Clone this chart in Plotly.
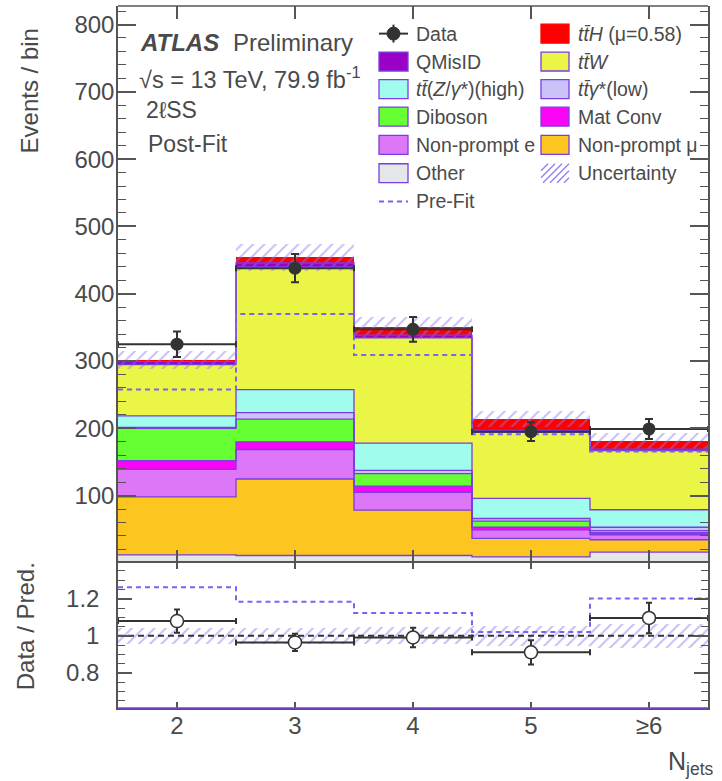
import numpy as np
import plotly.graph_objects as go

# ---------------- data ----------------
bin_labels = ["2", "3", "4", "5", "≥6"]
bin_centers = [2, 3, 4, 5, 6]
bin_edges = [1.5, 2.5, 3.5, 4.5, 5.5, 6.5]

# post-fit background/signal yields per N_jets bin (stacked bottom -> top)
other = [12, 11, 11, 9, 16]
nonprompt_mu = [86, 113.7, 67.5, 27.5, 18.4]
nonprompt_e = [41, 43.8, 26.5, 12.5, 7.4]
mat_conv = [13, 11.3, 9, 4, 3.2]
diboson = [48, 33.7, 18.7, 9, 3]
ttgamma_low = [1.5, 9.9, 4.9, 4, 5]
ttz_high = [17, 34.1, 40.3, 30, 26]
ttw = [76, 182.5, 156.6, 98, 87.7]
qmisid = [4.5, 5.6, 4, 3, 2.3]
tth = [2, 8.4, 11.5, 17, 12.5]

data = [325, 438, 347, 195, 199]
data_err = [19, 21, 18.5, 14, 15]
prefit_total = [257.5, 370, 309, 191, 165.6]
total_unc = [13.5, 20, 16, 12, 12]

# ---------------- style ----------------
FONT = "Liberation Sans, Arial, Helvetica, sans-serif"
TXT = "#4a4a4a"
AX = "#555555"
OUTLINE = "#7a3de0"
PREFIT = "#7b62f2"
HATCH = "#8e7df0"
DATA_C = "#333333"

stack = [
    ("Other", other, "#e4e7e8"),
    ("Non-prompt μ", nonprompt_mu, "#fdc51f"),
    ("Non-prompt e", nonprompt_e, "#dd77f8"),
    ("Mat Conv", mat_conv, "#fa05f5"),
    ("Diboson", diboson, "#66ff33"),
    ("ttgamma low", ttgamma_low, "#cbc3f8"),
    ("ttZ high", ttz_high, "#a0fdee"),
    ("ttW", ttw, "#eaf545"),
    ("QMisID", qmisid, "#9a00c6"),
    ("ttH", tth, "#ff0000"),
]

fig = go.Figure()

base = np.zeros(len(bin_centers))
for name, vals, col in stack:
    vals = np.asarray(vals, dtype=float)
    fig.add_trace(go.Bar(x=bin_centers, y=vals, base=base, width=1.0,
                         marker=dict(color=col, line=dict(width=0)),
                         name=name, xaxis="x", yaxis="y", hoverinfo="skip"))
    base = base + vals
    if name != "ttH":
        top = list(base) + [base[-1]]
        fig.add_trace(go.Scatter(x=bin_edges, y=top, mode="lines",
                                 line=dict(color=OUTLINE, width=1.3, shape="hv"),
                                 xaxis="x", yaxis="y", hoverinfo="skip"))
total = base

# uncertainty band on the total prediction
unc = np.asarray(total_unc, dtype=float)
hatch_marker = dict(color="rgba(0,0,0,0)", line=dict(width=0),
                    pattern=dict(shape="/", fgcolor=HATCH, bgcolor="rgba(0,0,0,0)",
                                 size=8, solidity=0.25, fillmode="overlay"))
fig.add_trace(go.Bar(x=bin_centers, y=2 * unc, base=total - unc, width=1.0,
                     marker=hatch_marker, xaxis="x", yaxis="y", hoverinfo="skip"))

# pre-fit total
fig.add_trace(go.Scatter(x=bin_edges, y=list(prefit_total) + [prefit_total[-1]], mode="lines",
                         line=dict(color=PREFIT, width=2, dash="5px,4px", shape="hv"),
                         xaxis="x", yaxis="y", hoverinfo="skip"))

# data
fig.add_trace(go.Scatter(x=bin_centers, y=data, mode="markers",
                         marker=dict(color=DATA_C, size=13),
                         error_x=dict(type="data", array=[0.5] * 5, width=3, thickness=2, color=DATA_C),
                         error_y=dict(type="data", array=data_err, width=4, thickness=2, color=DATA_C),
                         xaxis="x", yaxis="y", hoverinfo="skip"))

# ---------------- ratio panel ----------------
data_a = np.asarray(data, dtype=float)
rel_unc = unc / total
fig.add_trace(go.Bar(x=bin_centers, y=2 * rel_unc, base=1 - rel_unc, width=1.0,
                     marker=hatch_marker, xaxis="x2", yaxis="y2", hoverinfo="skip"))
fig.add_trace(go.Scatter(x=[1.5, 6.5], y=[1, 1], mode="lines",
                         line=dict(color=DATA_C, width=2, dash="6px,4px"),
                         xaxis="x2", yaxis="y2", hoverinfo="skip"))
ratio_pre = data_a / np.asarray(prefit_total)
fig.add_trace(go.Scatter(x=bin_edges, y=list(ratio_pre) + [ratio_pre[-1]], mode="lines",
                         line=dict(color=PREFIT, width=2, dash="5px,4px", shape="hv"),
                         xaxis="x2", yaxis="y2", hoverinfo="skip"))
fig.add_trace(go.Scatter(x=bin_centers, y=data_a / total, mode="markers",
                         marker=dict(color="white", size=13, line=dict(color=DATA_C, width=1.5)),
                         error_x=dict(type="data", array=[0.5] * 5, width=3, thickness=2, color=DATA_C),
                         error_y=dict(type="data", array=np.asarray(data_err) / total, width=3,
                                      thickness=2, color=DATA_C),
                         xaxis="x2", yaxis="y2", hoverinfo="skip"))

# ---------------- layout ----------------
W, H = 722, 781
L, R, T, B = 118, 14, 4, 73
PW, PH = W - L - R, H - T - B
SPLIT = 0.2067


def px(x):
    return (x - L) / PW


def py(y):
    return (H - B - y) / PH


axis_common = dict(showgrid=False, zeroline=False, showline=True, linewidth=1.5,
                   mirror="allticks", ticks="inside", tickcolor=AX, tickwidth=1.5,
                   tickfont=dict(family=FONT, size=24, color=TXT))

fig.update_layout(
    width=W, height=H, margin=dict(l=L, r=R, t=T, b=B),
    paper_bgcolor="white", plot_bgcolor="white", showlegend=False,
    barmode="overlay", bargap=0,
    font=dict(family=FONT, color=TXT, size=23),
    # main x axis: ticks only, its frame lines come from shapes / the ratio axis
    xaxis=dict(domain=[0, 1], anchor="y", range=[1.5, 6.5], tickmode="array",
               tickvals=bin_centers, showticklabels=False, ticklen=13,
               linecolor="rgba(0,0,0,0)", **axis_common),
    yaxis=dict(domain=[SPLIT, 1], anchor="x", range=[0, 827.5], tickmode="array",
               tickvals=list(range(100, 900, 100)), ticklen=18, ticklabelstandoff=-3,
               linecolor=AX,
               minor=dict(tickmode="array", tickvals=list(range(20, 827, 20)), ticks="inside",
                          ticklen=8, tickwidth=1.3, tickcolor=AX, showgrid=False),
               **axis_common),
    xaxis2=dict(domain=[0, 1], anchor="y2", matches="x", range=[1.5, 6.5], tickmode="array",
                tickvals=bin_centers, ticktext=bin_labels, ticklen=6, ticklabelstandoff=-5,
                linecolor=AX, **axis_common),
    yaxis2=dict(domain=[0, SPLIT], anchor="x2", range=[0.611, 1.3935], tickmode="array",
                tickvals=[0.8, 1.0, 1.2], ticktext=["0.8", "1", "1.2"], ticklen=14,
                ticklabelstandoff=12, linecolor=AX,
                minor=dict(tickmode="array", tickvals=[round(v, 2) for v in np.arange(0.65, 1.4, 0.05)],
                           ticks="inside", ticklen=7, tickwidth=1.3, tickcolor=AX, showgrid=False),
                **axis_common),
)

annotations = []
shapes = []


def text(x, y, s, size=23, xanchor="left", yanchor="middle", angle=0):
    annotations.append(dict(x=px(x), y=py(y), xref="paper", yref="paper", text=s, showarrow=False,
                            xanchor=xanchor, yanchor=yanchor, textangle=angle,
                            font=dict(family=FONT, size=size, color=TXT)))


# top frame line of the main panel
shapes.append(dict(type="line", xref="paper", yref="paper", x0=0, x1=1, y0=1, y1=1,
                   line=dict(color=AX, width=1.5)))

# axis titles
text(29, 25, "Events / bin", size=24, xanchor="center", yanchor="top", angle=-90)
text(25, 626, "Data / Pred.", size=24, xanchor="center", yanchor="middle", angle=-90)
text(716, 763, "N<sub>jets</sub>", size=25, xanchor="right", yanchor="middle")

# labels
text(138, 41, "<b><i>ATLAS</i></b>", size=24)
text(231, 41, "Preliminary", size=24)
text(137, 76, "√s = 13 TeV, 79.9 fb<sup>-1</sup>", size=23.5)
text(144, 108, "2ℓSS", size=23)
text(146, 142, "Post-Fit", size=23)

# legend
rows = [31.7, 59.7, 87.3, 115.0, 143.3, 171.7, 200.0]
c1_box, c1_txt = (379, 408), 414
c2_box, c2_txt = (541, 569), 576
LEG = 19.5


def box(xr, yc, col, border=True):
    shapes.append(dict(type="rect", xref="paper", yref="paper",
                       x0=px(xr[0]), x1=px(xr[1]), y0=py(yc + 9.5), y1=py(yc - 9.5),
                       fillcolor=col, line=dict(color=OUTLINE if border else col, width=1.3),
                       layer="above"))


# Data entry
shapes.append(dict(type="line", xref="paper", yref="paper", x0=px(c1_box[0]), x1=px(c1_box[1]),
                   y0=py(rows[0]), y1=py(rows[0]), line=dict(color=DATA_C, width=2)))
shapes.append(dict(type="line", xref="paper", yref="paper", x0=px(393.5), x1=px(393.5),
                   y0=py(rows[0] - 9), y1=py(rows[0] + 9), line=dict(color=DATA_C, width=2)))
shapes.append(dict(type="circle", xref="paper", yref="paper", x0=px(387), x1=px(400),
                   y0=py(rows[0] + 6.5), y1=py(rows[0] - 6.5), fillcolor=DATA_C,
                   line=dict(color=DATA_C, width=1)))
text(c1_txt, rows[0], "Data", size=LEG)

col1 = [("QMisID", "#9a00c6"),
        ("<i>tt̄</i>(<i>Z</i>/<i>γ</i>*)(high)", "#a0fdee"),
        ("Diboson", "#66ff33"),
        ("Non-prompt e", "#dd77f8"),
        ("Other", "#e4e7e8")]
for i, (lab, col) in enumerate(col1, start=1):
    box(c1_box, rows[i], col)
    text(c1_txt, rows[i], lab, size=LEG)

# Pre-fit entry
shapes.append(dict(type="line", xref="paper", yref="paper", x0=px(c1_box[0]), x1=px(c1_box[1]),
                   y0=py(rows[6]), y1=py(rows[6]), line=dict(color=PREFIT, width=2, dash="5px,4px")))
text(c1_txt, rows[6], "Pre-Fit", size=LEG)

col2 = [("<i>tt̄H</i> (μ=0.58)", "#ff0000"),
        ("<i>tt̄W</i>", "#eaf545"),
        ("<i>tt̄γ</i>*(low)", "#cbc3f8"),
        ("Mat Conv", "#fa05f5"),
        ("Non-prompt μ", "#fdc51f")]
for i, (lab, col) in enumerate(col2):
    box(c2_box, rows[i], col, border=(i != 0))
    text(c2_txt, rows[i], lab, size=LEG)

# Uncertainty entry: diagonal hatch lines inside the swatch
x0b, x1b = c2_box
y0b, y1b = rows[5] - 9.5, rows[5] + 9.5
hh = y1b - y0b
for c in np.arange(x0b - hh, x1b, 7):
    t0 = max(0.0, (x0b - c) / hh)
    t1 = min(1.0, (x1b - c) / hh)
    if t1 <= t0:
        continue
    xa, ya = c + t0 * hh, y1b - t0 * hh
    xb, yb = c + t1 * hh, y1b - t1 * hh
    shapes.append(dict(type="line", xref="paper", yref="paper", x0=px(xa), x1=px(xb),
                       y0=py(ya), y1=py(yb), line=dict(color=HATCH, width=1.3)))
text(c2_txt, rows[5], "Uncertainty", size=LEG)

# thin line along the bottom of the ratio frame
shapes.append(dict(type="line", xref="paper", yref="paper", x0=0, x1=1, y0=0, y1=0,
                   line=dict(color=OUTLINE, width=1.5)))

fig.update_layout(annotations=annotations, shapes=shapes)
fig.write_html("out.html")
